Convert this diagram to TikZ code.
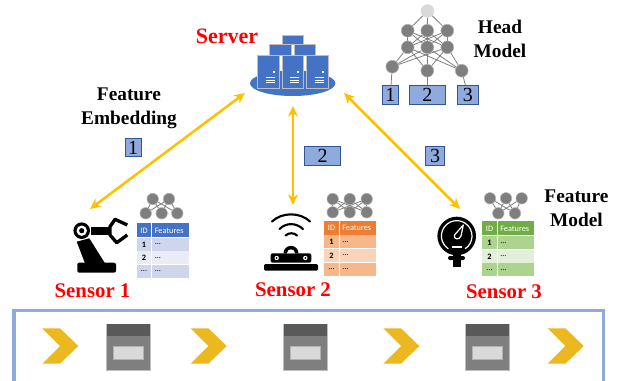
\documentclass[tikz,border=0pt]{standalone}
\usepackage{fontspec}
\setmainfont{Liberation Serif}
\newfontfamily\tablefont{Carlito}
\usetikzlibrary{arrows.meta,backgrounds}

\definecolor{linkorange}{HTML}{FFC000}
\definecolor{paleblue}{HTML}{8FAADC}
\definecolor{darkblue}{HTML}{2F5597}
\definecolor{serverblue}{HTML}{4472C4}
\definecolor{chevron}{HTML}{EBB81F}
\definecolor{netgray}{HTML}{7F7F7F}
\definecolor{bluehead}{HTML}{4472C4}
\definecolor{bluedark}{HTML}{CFD5EA}
\definecolor{bluelight}{HTML}{E9EBF5}
\definecolor{orangehead}{HTML}{ED7D31}
\definecolor{orangedark}{HTML}{F6B88A}
\definecolor{orangelight}{HTML}{FAD4B9}
\definecolor{greenhead}{HTML}{70AD47}
\definecolor{greendark}{HTML}{ACD38F}
\definecolor{greenlight}{HTML}{E2EFD9}

\tikzset{
  title/.style={font=\bfseries\fontsize{14.5}{16}\selectfont, align=center},
  sensorname/.style={font=\bfseries\fontsize{15.6}{17}\selectfont, text=red},
  link/.style={draw=linkorange, line width=1.9pt, {Stealth[length=8pt,width=7.5pt]}-{Stealth[length=8pt,width=7.5pt]}},
  netnode/.style={circle, fill=netgray, draw=netgray!60, line width=0.4pt, minimum size=8.6pt, inner sep=0pt},
  bignode/.style={netnode, minimum size=9.6pt},
  netedge/.style={draw=netgray, line width=0.6pt},
  idbox/.style={draw=darkblue, fill=paleblue, line width=0.7pt, inner sep=0pt, minimum height=14pt, font=\fontsize{15}{15}\selectfont},
  towerbox/.style={fill=serverblue, draw=black!25, line width=0.6pt},
  celltext/.style={font=\tablefont\fontsize{6.2}{7}\selectfont, inner sep=0pt},
}

% table beside a sensor: x, y, header, dark row, light row
\newcommand{\featuretable}[6]{
  \fill[#4] (#2,#3) rectangle ++(52,14);
  \fill[#5] (#2,#3+14.7) rectangle ++(52,13);
  \fill[#6] (#2,#3+28.4) rectangle ++(52,13);
  \fill[#5] (#2,#3+42.1) rectangle ++(52,13);
  \draw[white, line width=0.6pt] (#2+15,#3) -- ++(0,55);
  \node[celltext, text=white] (#1h1) at (#2+7.5,#3+7.5) {ID};
  \node[celltext, text=white, anchor=west] (#1h2) at (#2+18,#3+7.5) {Features};
  \node[celltext] (#1a1) at (#2+7.5,#3+21.5) {\textbf{1}};
  \node[celltext, anchor=west] (#1a2) at (#2+18,#3+21.5) {...};
  \node[celltext] (#1b1) at (#2+7.5,#3+35) {\textbf{2}};
  \node[celltext, anchor=west] (#1b2) at (#2+18,#3+35) {...};
  \node[celltext] (#1c1) at (#2+7.5,#3+48.5) {...};
  \node[celltext, anchor=west] (#1c2) at (#2+18,#3+48.5) {...};
}

% server tower
\newcommand{\servertower}[1]{
  \draw[towerbox] (#1,55.3) rectangle ++(21.3,33);
  \fill[white] (#1+15,71) rectangle ++(2,2);
  \draw[white, line width=0.5pt] (#1+8,77.5) -- ++(9,0) (#1+8,80) -- ++(9,0) (#1+8,82.5) -- ++(9,0);
}

\newcommand{\chevronmark}[1]{
  \fill[chevron] (#1,328.3) -- ++(17.7,0) -- ++(18.3,17.7) -- ++(-18.3,17.7) -- ++(-17.7,0) -- ++(17.7,-17.7) -- cycle;
}

\newcommand{\graybox}[1]{
  \draw[fill=netgray, draw=black!25, line width=0.6pt] (#1,324) rectangle ++(44,46.7);
  \fill[black!65] (#1+0.4,324.4) rectangle ++(43.2,11.3);
  \draw[fill=black!15, draw=black!30, line width=0.5pt] (#1+7,346.7) rectangle ++(30,12.6);
}

\begin{document}
\begin{tikzpicture}[x=0.75pt,y=-0.75pt]
\useasboundingbox (0,0) rectangle (624,381);

% server
\fill[serverblue] (292.7,83.3) ellipse (42.7 and 12.7);
\draw[towerbox] (282,35) rectangle (303.3,44.3);
\draw[towerbox] (269.3,44.3) rectangle (291,55.3);
\draw[towerbox] (294.3,44.3) rectangle (315.7,55.3);
\servertower{257.7}
\servertower{282}
\servertower{306.7}

\node[title, font=\bfseries\fontsize{16.5}{18}\selectfont, text=red] (server) at (227,36) {Server};
\node[title] (embedding) at (129,108.5) {Feature\\[2pt]Embedding};
\node[title] (head) at (500,38.5) {Head\\[2pt]Model};
\node[title] (feature) at (576.5,208.5) {Feature\\[2pt]Model};

% head model
\node[bignode, fill=black!15, draw=black!15] (t) at (427.5,11) {};
\foreach \i/\x in {1/407.7,2/427.3,3/447.3} {
  \node[bignode] (u\i) at (\x,30.7) {};
  \node[bignode] (v\i) at (\x,47.3) {};
}
\node[bignode] (w1) at (392.3,66.7) {};
\node[bignode] (w2) at (427.3,70.7) {};
\node[bignode] (w3) at (461.7,70.7) {};
\node[idbox, minimum width=12pt] (b1) at (390.3,95) {1};
\node[idbox, minimum width=27.5pt] (b2) at (427.3,95) {2};
\node[idbox, minimum width=15.7pt] (b3) at (467.8,95) {3};
\begin{scope}[on background layer]
\foreach \i in {1,2,3} {
  \draw[netedge] (t) -- (u\i);
  \draw[netedge] (w\i) -- (b\i);
  \foreach \j in {1,2,3} {
    \draw[netedge] (u\i) -- (v\j);
    \draw[netedge] (v\i) -- (w\j);
  }
}
\end{scope}

% sensor 1
\fill[black, rounded corners=1.5pt] (77.3,262.7) rectangle (116,272.7);
\fill[black] (76.7,241.7) -- (89.3,238.3) -- (105,263.3) -- (85,263.3) -- cycle;
\fill[black] (91,226.7) rectangle (110,235);
\draw[black, line width=2.5pt, line join=round] (127.3,225) -- (115,219.3) -- (110,226.7) -- (110,235) -- (116.7,242.7) -- (127.3,235);
\fill[black] (81.7,230.7) circle (8.3);
\fill[white] (81.7,230.7) circle (5.2);
\fill[black] (81.7,230.7) circle (2.6);
\node[sensorname] (s1) at (92.5,291) {Sensor 1};

% sensor 2
\fill[black, rounded corners=1pt] (264,264) rectangle (318,270.7);
\fill[black, rounded corners=1.5pt] (270.7,253.3) rectangle (311.3,262.7);
\fill[black] (283.5,253.3) arc[start angle=180, end angle=360, radius=7.5] -- cycle;
\fill[white] (287,253.3) arc[start angle=180, end angle=360, radius=4] -- cycle;
\fill[white] (276.7,258) circle (2.2);
\fill[black] (276.7,258) circle (1);
\fill[white] (305.3,258) circle (2.2);
\fill[black] (305.3,258) circle (1);
\draw[black, line width=1.6pt, line cap=round] (272,221.5) .. controls (282,212) and (300,212) .. (310,221.5);
\draw[black, line width=1.6pt, line cap=round] (279.5,229) .. controls (286,222.5) and (296,222.5) .. (303,229);
\draw[black, line width=1.6pt, line cap=round] (285.5,235.5) .. controls (289,232.5) and (294,232.5) .. (297,235.5);
\node[sensorname] (s2) at (293,290) {Sensor 2};

% sensor 3
\fill[black] (456.7,236) circle (19.3);
\draw[white, line width=0.9pt] (448.4,248.8) arc[start angle=123, end angle=417, radius=15.3];
\fill[black, rounded corners=1.5pt] (448,256) rectangle (465,260);
\fill[black] (453,255) rectangle (460.7,266.7);
\draw[white, line width=0.9pt, line join=round] (463.3,225) -- (461,236) .. controls (459.5,240.5) and (453,239.5) .. (454.5,235) -- cycle;
\draw[white, line width=0.9pt] (451.5,247) -- (461.5,247);
\node[sensorname] (s3) at (504,291.7) {Sensor 3};

% feature models
\foreach \n/\x/\y in {a/152.7/199,b/169/199,c/145.7/213.3,d/161.7/213.3,e/177.3/213.3}
  \node[netnode] (p\n) at (\x,\y) {};
\begin{scope}[on background layer]
\foreach \s/\e in {a/c,a/d,a/e,b/c,b/d,b/e}
  \draw[netedge] (p\s) -- (p\e);
\end{scope}

\foreach \n/\x/\y in {a/332.7/199,b/349.7/199,c/366.7/199,d/332.7/212.3,e/349.7/212.3,f/366.7/212.3}
  \node[netnode] (q\n) at (\x,\y) {};
\begin{scope}[on background layer]
\foreach \s in {a,b,c}
  \foreach \e in {d,e,f}
    \draw[netedge] (q\s) -- (q\e);
\end{scope}

\foreach \n/\x/\y in {a/490/198.3,b/506/198.3,c/521.7/198.3,d/498.3/213.3,e/515/213.3}
  \node[netnode] (r\n) at (\x,\y) {};
\begin{scope}[on background layer]
\foreach \s in {a,b,c}
  \foreach \e in {d,e}
    \draw[netedge] (r\s) -- (r\e);
\end{scope}

\featuretable{ta}{136.5}{223}{bluehead}{bluedark}{bluelight}
\featuretable{tb}{324}{220.5}{orangehead}{orangedark}{orangelight}
\featuretable{tc}{482}{221.3}{greenhead}{greendark}{greenlight}

% links
\coordinate (srvl) at (245,93);
\coordinate (srvb) at (293,106);
\coordinate (srvr) at (344,93);
\coordinate (snsa) at (90,209);
\coordinate (snsb) at (293,205);
\coordinate (snsc) at (460,209);
\draw[link] (srvl) -- (snsa);
\draw[link] (srvb) -- (snsb);
\draw[link] (srvr) -- (snsc);
\node[idbox, minimum width=12pt] (l1) at (133,147.5) {1};
\node[idbox, minimum width=27.5pt] (l2) at (322.5,156) {2};
\node[idbox, minimum width=14.5pt] (l3) at (435,156) {3};

% bottom frame
\draw[paleblue, line width=2.7pt] (14,381) -- (14,310.5) -- (603.5,310.5) -- (603.5,381);
\chevronmark{42.3}
\chevronmark{190.7}
\chevronmark{383.3}
\chevronmark{547.7}
\graybox{106.3}
\graybox{283.3}
\graybox{465.3}
\end{tikzpicture}
\end{document}
